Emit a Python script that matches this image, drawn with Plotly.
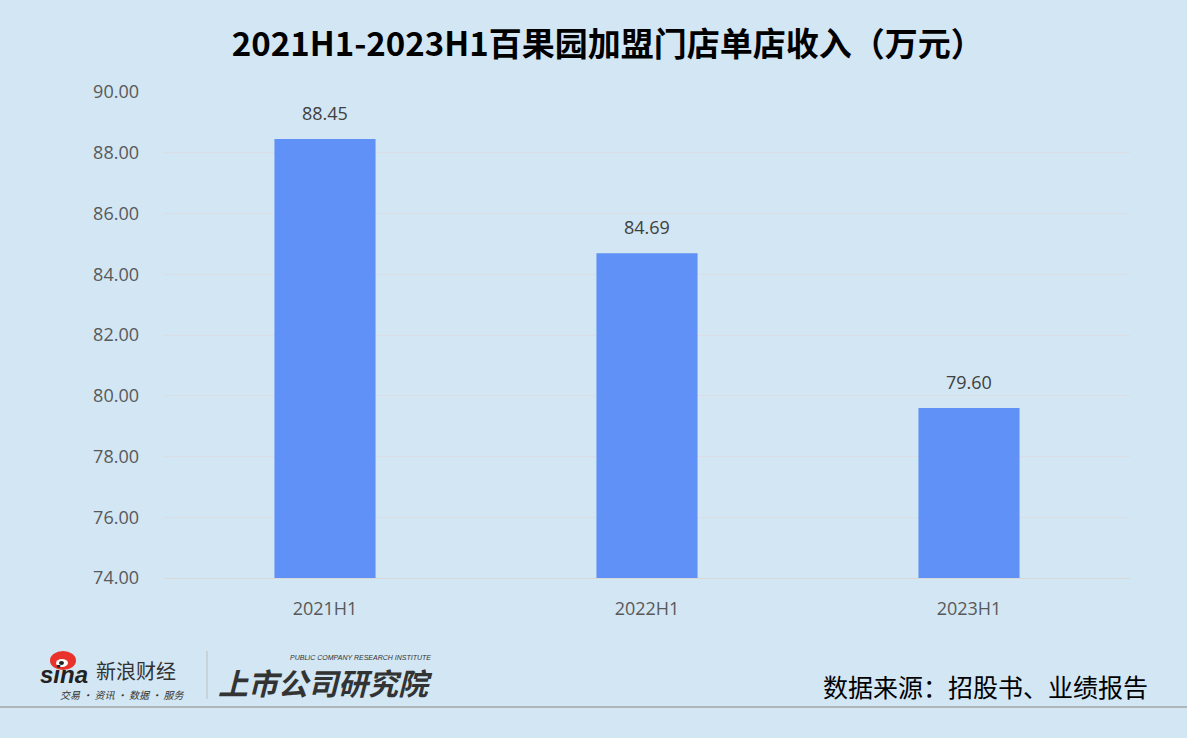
import plotly.graph_objects as go

categories = ["2021H1", "2022H1", "2023H1"]
values = [88.45, 84.69, 79.60]
tick_vals = [74, 76, 78, 80, 82, 84, 86, 88, 90]
tick_text = ["74.00", "76.00", "78.00", "80.00", "82.00", "84.00", "86.00", "88.00", "90.00"]

BG = "#D2E6F4"
FONT = "Noto Sans CJK SC, Noto Sans, sans-serif"
NUMFONT = "Open Sans, Noto Sans, sans-serif"

fig = go.Figure()
fig.add_trace(go.Bar(
    x=categories, y=values,
    marker=dict(color="#5F91F6", line=dict(width=0)),
    hoverinfo="x+y",
))
for c, v in zip(categories, values):
    fig.add_annotation(x=c, y=v, text=f"{v:.2f}", showarrow=False,
                       yanchor="bottom", yshift=12,
                       font=dict(size=18, color="#404040", family=NUMFONT))

fig.update_layout(
    width=1187, height=738,
    paper_bgcolor=BG, plot_bgcolor=BG,
    margin=dict(l=164, r=57, t=92, b=160),
    bargap=0.686,
    showlegend=False,
    title=dict(text="<b>2021H1-2023H1百果园加盟门店单店收入（万元）</b>",
               x=0.512, xanchor="center", y=0.94, yanchor="middle",
               font=dict(size=33, color="#000000", family=FONT)),
    xaxis=dict(showgrid=False, showline=True, linecolor="#D9D9D9", linewidth=1,
               ticks="", ticklabelstandoff=14,
               tickfont=dict(size=18, color="#595959", family=NUMFONT)),
    yaxis=dict(range=[74, 90], tickvals=tick_vals, ticktext=tick_text,
               showgrid=True, gridcolor="#DADDE3", gridwidth=1, zeroline=False,
               showline=False, ticks="", ticklabelstandoff=24,
               tickfont=dict(size=18, color="#595959", family=NUMFONT)),
    font=dict(family=FONT),
)

def px(x):
    return (x - 164) / 966

def py(y):
    return (578 - y) / 486

# bottom rule
fig.add_shape(type="line", xref="paper", yref="paper", x0=px(0), x1=px(1187),
              y0=py(707), y1=py(707), line=dict(color="#A6A6A6", width=1.5))
# separator in logo
fig.add_shape(type="line", xref="paper", yref="paper", x0=px(207), x1=px(207),
              y0=py(699), y1=py(651), line=dict(color="#BFBFBF", width=1))

# sina eye logo
fig.add_shape(type="circle", xref="paper", yref="paper",
              x0=px(50), x1=px(76), y0=py(670), y1=py(651),
              fillcolor="#E8322B", line=dict(width=0))
fig.add_shape(type="circle", xref="paper", yref="paper",
              x0=px(56), x1=px(68), y0=py(667), y1=py(659),
              fillcolor="#FFFFFF", line=dict(width=0))
fig.add_shape(type="circle", xref="paper", yref="paper",
              x0=px(59), x1=px(64), y0=py(665), y1=py(661),
              fillcolor="#222222", line=dict(width=0))
fig.add_annotation(xref="paper", yref="paper", x=px(38), y=py(674), xanchor="left", yanchor="middle",
                   text="<b><i>sina</i></b>", showarrow=False,
                   font=dict(size=24, color="#222222", family="Liberation Sans"))
fig.add_annotation(xref="paper", yref="paper", x=px(94), y=py(670), xanchor="left", yanchor="middle",
                   text="新浪财经", showarrow=False,
                   font=dict(size=20, color="#333333", family=FONT))
fig.add_annotation(xref="paper", yref="paper", x=px(58), y=py(694), xanchor="left", yanchor="middle",
                   text="<i>交易 · 资讯 · 数据 · 服务</i>", showarrow=False,
                   font=dict(size=10, color="#333333", family=FONT))
fig.add_annotation(xref="paper", yref="paper", x=px(216), y=py(682), xanchor="left", yanchor="middle",
                   text="<b><i>上市公司研究院</i></b>", showarrow=False,
                   font=dict(size=30, color="#333333", family=FONT))
fig.add_annotation(xref="paper", yref="paper", x=px(288), y=py(657), xanchor="left", yanchor="middle",
                   text="<i>PUBLIC COMPANY RESEARCH INSTITUTE</i>", showarrow=False,
                   font=dict(size=7, color="#333333", family="Liberation Sans"))
# source
fig.add_annotation(xref="paper", yref="paper", x=px(1150), y=py(686), xanchor="right", yanchor="middle",
                   text="数据来源：招股书、业绩报告", showarrow=False,
                   font=dict(size=25, color="#000000", family=FONT))

fig.write_html("out.html", config={"displayModeBar": False},
               post_script="document.body.style.margin='0';")
